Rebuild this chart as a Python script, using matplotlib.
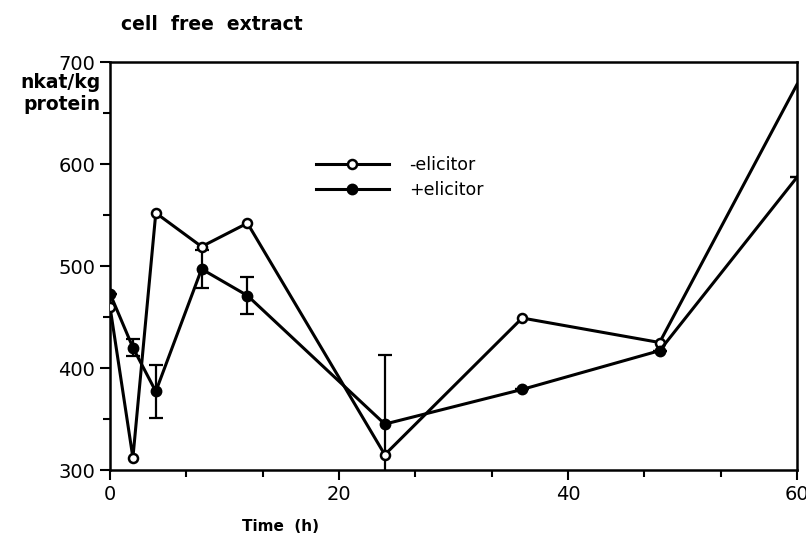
import matplotlib.pyplot as plt
from matplotlib.ticker import MultipleLocator

plt.rcParams['font.family'] = 'DejaVu Sans'

time_h = [0, 2, 4, 8, 12, 24, 36, 48, 60]
minus_elicitor = [460, 312, 552, 519, 542, 315, 449, 425, 678]
plus_elicitor = [473, 420, 377, 497, 471, 345, 379, 417, 587]
plus_err = [0, 8, 26, 19, 18, 68, 0, 0, 0]

fig = plt.figure(figsize=(8.06, 5.42), dpi=100)
ax = fig.add_axes([110/806, 72/542, 687/806, 408/542])

ax.errorbar(time_h, plus_elicitor, yerr=plus_err, fmt='none', ecolor='black',
            elinewidth=1.6, capsize=5, capthick=1.6, zorder=2)
ax.plot(time_h, minus_elicitor, '-o', color='black', lw=2.2, ms=6.5,
        mfc='white', mew=1.8, label='-elicitor', zorder=3, markevery=list(range(8)))
ax.plot(time_h, plus_elicitor, '-o', color='black', lw=2.2, ms=7,
        mfc='black', mew=1.5, label='+elicitor', zorder=3, markevery=list(range(8)))

ax.set_xlim(0, 60)
ax.set_ylim(300, 700)
ax.xaxis.set_major_locator(MultipleLocator(20))
ax.xaxis.set_minor_locator(MultipleLocator(20/3))
ax.yaxis.set_major_locator(MultipleLocator(100))
ax.yaxis.set_minor_locator(MultipleLocator(50))
ax.tick_params(which='major', direction='out', length=7, width=1.5, labelsize=14)
ax.tick_params(which='minor', direction='out', length=5, width=1.5)
for s in ax.spines.values():
    s.set_linewidth(1.8)

ax.set_xlabel('Time  (h)', fontsize=11, fontweight='bold')
ax.xaxis.set_label_coords((280-110)/687, -0.12)

fig.text(101/806, 1-93/542, 'nkat/kg\nprotein', ha='right', va='center',
         fontsize=13.5, fontweight='bold', linespacing=1.2)
fig.text(121/806, 1-25/542, 'cell  free  extract', ha='left', va='center',
         fontsize=13.5, fontweight='bold')

ax.legend(loc='upper left', bbox_to_anchor=((300-110)/687, (470-140)/408),
          frameon=False, numpoints=1, handlelength=4.2, fontsize=12.5,
          handletextpad=1.2, labelspacing=0.45)

fig.savefig('out.png', dpi=100)
